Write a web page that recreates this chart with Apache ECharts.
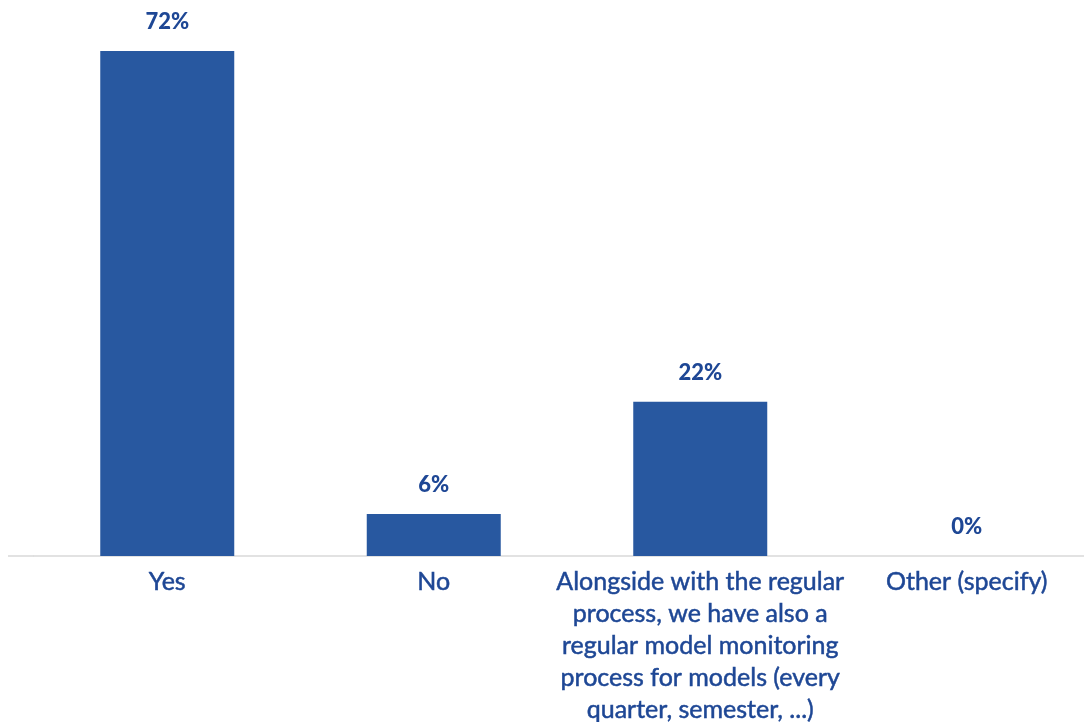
<!DOCTYPE html>
<html>
<head>
<meta charset="utf-8">
<script src="https://cdn.jsdelivr.net/npm/echarts@6/dist/echarts.min.js"></script>
<style>
  html, body { margin: 0; padding: 0; background: #ffffff; }
  #chart { width: 1084px; height: 722px; }
</style>
</head>
<body>
<div id="chart"></div>
<script>
// Survey answers and their shares (percent)
const categories = [
  'Yes',
  'No',
  'Alongside with the regular\nprocess, we have also a\nregular model monitoring\nprocess for models (every\nquarter, semester, ...)',
  'Other (specify)'
];
const shares = [72, 6, 22, 0];

const barColor = '#2858A0';
const textColor = '#1E4795';
const fontFamily = 'Lato, "Open Sans", sans-serif';

const chart = echarts.init(document.getElementById('chart'), null, { renderer: 'canvas' });

chart.setOption({
  animation: false,
  backgroundColor: '#ffffff',
  grid: {
    left: 34, right: -16, top: 51, bottom: 166,
    containLabel: false,
    outerBoundsMode: 'none'
  },
  xAxis: {
    type: 'category',
    data: categories,
    axisTick: { show: false },
    axisLine: { show: true, lineStyle: { color: '#D9D9D9', width: 1.5 } },
    axisLabel: {
      interval: 0,
      margin: 10,
      color: textColor,
      fontFamily: fontFamily,
      fontSize: 25,
      lineHeight: 32,
      align: 'center',
      textBorderColor: textColor,
      textBorderWidth: 0.5
    }
  },
  yAxis: {
    type: 'value',
    min: 0,
    max: 72,
    show: false,
    splitLine: { show: false }
  },
  series: [{
    type: 'bar',
    data: shares,
    barWidth: 134,
    itemStyle: { color: barColor },
    label: {
      show: true,
      position: 'top',
      distance: 18,
      formatter: p => p.value + '%',
      color: textColor,
      fontFamily: fontFamily,
      fontWeight: 900,
      fontSize: 22
    }
  }]
});

// extend the baseline to the left edge of the plot
const baseY = chart.convertToPixel({ yAxisIndex: 0 }, 0);
const bandHalf = (chart.convertToPixel({ xAxisIndex: 0 }, 1) - chart.convertToPixel({ xAxisIndex: 0 }, 0)) / 2;
const gridLeft = chart.convertToPixel({ xAxisIndex: 0 }, 0) - bandHalf;
chart.setOption({
  graphic: [{
    type: 'line',
    shape: { x1: 8, y1: baseY, x2: gridLeft, y2: baseY },
    style: { stroke: '#D9D9D9', lineWidth: 1.5 },
    silent: true
  }]
});
</script>
</body>
</html>
